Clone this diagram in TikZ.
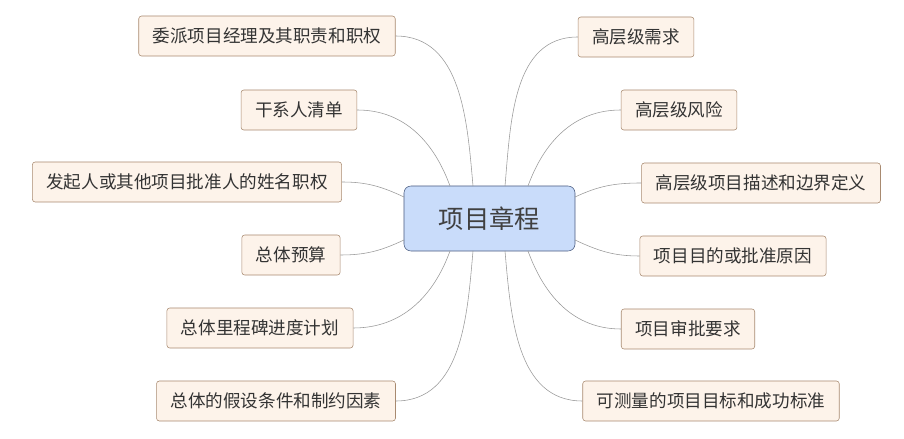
\documentclass[tikz,border=0pt]{standalone}
\usepackage{fontspec}
\setmainfont{Noto Sans CJK SC}
\usetikzlibrary{positioning}
\definecolor{leaffill}{HTML}{FDF3EA}
\definecolor{leafdraw}{HTML}{A88A70}
\definecolor{rootfill}{HTML}{C9DCFA}
\definecolor{rootdraw}{HTML}{4A5C80}
\tikzset{
  leaf/.style = {draw=leafdraw, fill=leaffill, rounded corners=2pt, minimum height=1cm,
    inner xsep=0.35cm, font=\fontsize{12.5}{14}\selectfont, text=black!80},
  root/.style = {draw=rootdraw, fill=rootfill, rounded corners=5pt, minimum width=4.275cm,
    minimum height=1.625cm, font=\fontsize{18}{20}\selectfont, text=black!75},
  branch/.style = {draw=black!40, thin},
}
\begin{document}
\begin{tikzpicture}[x=0.025cm, y=-0.025cm]
\useasboundingbox (0,0) rectangle (904,439);

% root
\node[root] (c) at (489.5,218.5) {项目章程};

% left leaves
\node[leaf] (l1) at (267,36) {委派项目经理及其职责和职权};
\node[leaf] (l2) at (299,110) {干系人清单};
\node[leaf] (l3) at (187,182) {发起人或其他项目批准人的姓名职权};
\node[leaf] (l4) at (291,255) {总体预算};
\node[leaf] (l5) at (260,328) {总体里程碑进度计划};
\node[leaf] (l6) at (276,401) {总体的假设条件和制约因素};

% right leaves
\node[leaf] (r1) at (636,37) {高层级需求};
\node[leaf] (r2) at (679,110) {高层级风险};
\node[leaf] (r3) at (761,183) {高层级项目描述和边界定义};
\node[leaf] (r4) at (733,256) {项目目的或批准原因};
\node[leaf] (r5) at (688,329) {项目审批要求};
\node[leaf] (r6) at (711,401) {可测量的项目目标和成功标准};

% anchors on the root
\coordinate (tl1) at (473,186);
\coordinate (tl2) at (450,186);
\coordinate (tr1) at (505,186);
\coordinate (tr2) at (528,186);
\coordinate (bl5) at (450,251);
\coordinate (bl6) at (473,251);
\coordinate (br5) at (528,251);
\coordinate (br6) at (505,251);
\coordinate (ml3) at (404,197);
\coordinate (ml4) at (404,240);
\coordinate (mr3) at (575,197);
\coordinate (mr4) at (575,240);

% branches
\draw[branch] (tl1) to[out=95,in=0] (l1.east);
\draw[branch] (tl2) to[out=110,in=0] (l2.east);
\draw[branch] (ml3) to[out=155,in=0] (l3.east);
\draw[branch] (ml4) to[out=205,in=0] (l4.east);
\draw[branch] (bl5) to[out=250,in=0] (l5.east);
\draw[branch] (bl6) to[out=265,in=0] (l6.east);
\draw[branch] (tr1) to[out=85,in=180] (r1.west);
\draw[branch] (tr2) to[out=70,in=180] (r2.west);
\draw[branch] (mr3) to[out=25,in=180] (r3.west);
\draw[branch] (mr4) to[out=-25,in=180] (r4.west);
\draw[branch] (br5) to[out=-70,in=180] (r5.west);
\draw[branch] (br6) to[out=-85,in=180] (r6.west);
\end{tikzpicture}
\end{document}
